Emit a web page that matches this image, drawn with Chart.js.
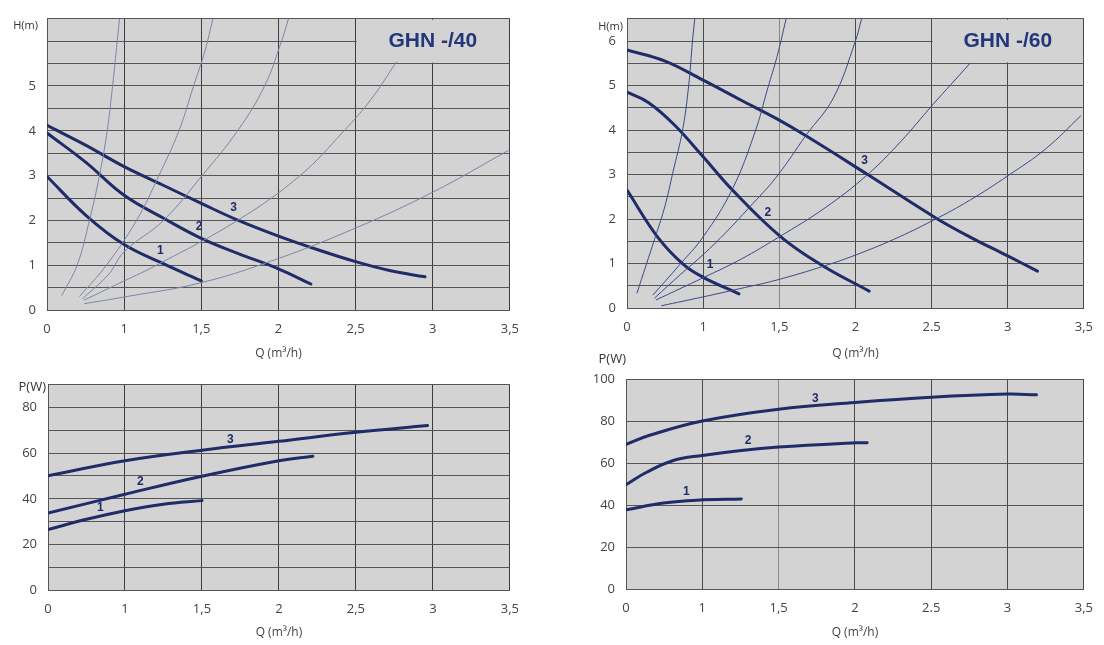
<!DOCTYPE html>
<html>
<head>
<meta charset="utf-8">
<script src="https://cdn.jsdelivr.net/npm/chart.js@4.4.1/dist/chart.umd.min.js"></script>
<style>
body { margin: 0; background: #fff; width: 1104px; height: 645px; overflow: hidden; position: relative; }
.panel { position: absolute; }
</style>
</head>
<body>
<div class="panel" style="left:0;top:0;width:530px;height:366px"><canvas id="h40"></canvas></div>
<div class="panel" style="left:560px;top:0;width:544px;height:366px"><canvas id="h60"></canvas></div>
<div class="panel" style="left:0;top:366px;width:530px;height:279px"><canvas id="p40"></canvas></div>
<div class="panel" style="left:560px;top:340px;width:544px;height:305px"><canvas id="p60"></canvas></div>
<script>
// x axis is not linear: 0, 1, 1,5, 2 ... are equally spaced
const qTicksLeft = ['0', '1', '1,5', '2', '2,5', '3', '3,5'];
const qTicksRight = ['0', '1', '1,5', '2', '2.5', '3', '3,5'];

// GHN -/40  H(Q)
const h40Q1 = [0, 0.5, 1, 1.25, 1.5];
const h40H1 = [2.98, 2.12, 1.46, 1.04, 0.65];
const h40Q2 = [0, 0.5, 1, 1.25, 1.5, 1.74, 2, 2.21];
const h40H2 = [3.95, 3.3, 2.56, 2.06, 1.6, 1.26, 0.92, 0.58];
const h40Q3 = [0, 0.5, 1, 1.25, 1.5, 1.74, 2, 2.26, 2.5, 2.72, 2.95];
const h40H3 = [4.12, 3.68, 3.2, 2.79, 2.38, 2.0, 1.65, 1.34, 1.08, 0.88, 0.74];
// system curves GHN -/40
const s40Q = [
  [0.19, 0.39, 0.55, 0.68, 0.78, 0.85, 0.91, 0.94],
  [0.42, 0.77, 1.08, 1.225, 1.355, 1.45, 1.525, 1.575],
  [0.46, 0.8, 1.0, 1.255, 1.505, 1.735, 1.91, 2.02, 2.065],
  [0.48, 1.0, 1.21, 1.735, 2.14, 2.425, 2.6, 2.765],
  [0.48, 1, 1.5, 2, 2.5, 3, 3.49]
];
const s40H = [
  [0.32, 1, 2, 3, 4, 5, 6, 6.5],
  [0.3, 1, 2, 3, 4, 5, 5.8, 6.5],
  [0.25, 0.8, 1.3, 2, 3, 4, 5, 6, 6.5],
  [0.22, 0.65, 1, 2, 3, 4, 4.7, 5.54],
  [0.14, 0.29, 0.61, 1.15, 1.83, 2.63, 3.56]
];
const h40Labels = [[1.235, 1.33], [1.485, 1.85], [1.71, 2.28]];

// GHN -/60  H(Q)
const h60Q1 = [0, 0.4, 0.74, 1.0, 1.235];
const h60H1 = [2.65, 1.6, 0.98, 0.69, 0.32];
const h60Q2 = [0, 0.28, 0.62, 1.0, 1.19, 1.51, 1.785, 2.09];
const h60H2 = [4.85, 4.62, 4.12, 3.4, 2.66, 1.6, 0.95, 0.38];
const h60Q3 = [0, 0.5, 1.0, 1.25, 1.485, 1.675, 2.08, 2.525, 2.75, 3.0, 3.195];
const h60H3 = [5.8, 5.55, 5.12, 4.67, 4.25, 3.87, 3.0, 2.03, 1.6, 1.17, 0.83];
// system curves GHN -/60
const s60Q = [
  [0.13, 0.25, 0.38, 0.5, 0.6, 0.73, 0.81, 0.86, 0.89],
  [0.34, 0.68, 1.0, 1.19, 1.34, 1.425, 1.485, 1.545],
  [0.36, 0.7, 1.0, 1.15, 1.3, 1.48, 1.675, 1.855, 2.0, 2.04],
  [0.38, 1.0, 1.25, 1.5, 1.8, 2.08, 2.3, 2.5, 2.75],
  [0.45, 1.0, 1.235, 1.485, 1.8, 2.0, 2.25, 2.51, 2.75, 3.0, 3.25, 3.48]
];
const s60H = [
  [0.33, 0.96, 1.64, 2.3, 3.03, 4.0, 5.0, 6.0, 6.5],
  [0.29, 0.95, 1.6, 2.66, 3.95, 4.95, 5.65, 6.5],
  [0.22, 0.75, 1.2, 1.7, 2.25, 2.94, 3.88, 4.72, 6.0, 6.5],
  [0.18, 0.68, 1.1, 1.6, 2.25, 3.0, 3.75, 4.54, 5.49],
  [0.05, 0.25, 0.43, 0.63, 0.95, 1.19, 1.54, 1.97, 2.42, 2.97, 3.58, 4.32]
];
const h60Labels = [[1.045, 0.97], [1.425, 2.15], [2.06, 3.3]];

// GHN -/40  P(Q)
const p40Q1 = [0, 0.5, 1, 1.25, 1.5];
const p40P1 = [26.5, 31, 34.8, 37.6, 39.2];
const p40Q2 = [0, 1, 1.5, 2, 2.22];
const p40P2 = [33.7, 42, 49.9, 56.7, 58.7];
const p40Q3 = [0, 1, 1.5, 2, 2.5, 2.965];
const p40P3 = [50.1, 56.7, 61.3, 65.2, 69.2, 72.1];
const p40Labels = [[0.68, 36], [1.1, 47.3], [1.685, 65.9]];

// GHN -/60  P(Q)
const p60Q1 = [0, 0.49, 0.93, 1.255];
const p60P1 = [37.7, 40.9, 42.3, 42.9];
const p60Q2 = [0, 0.27, 0.62, 1.0, 1.255, 1.5, 2.0, 2.08];
const p60P2 = [49.7, 55.6, 61.2, 63.6, 66, 67.6, 69.6, 69.7];
const p60Q3 = [0, 0.31, 1, 1.5, 2, 2.5, 3, 3.19];
const p60P3 = [68.9, 73.2, 80, 85.6, 88.8, 91.3, 92.8, 92.5];
const p60Labels = [[0.79, 46.5], [1.3, 70.8], [1.74, 90.4]];

const NAVY = '#1f2c68';
const PAPER = '#d3d3d3';

function qToPos(q) {
  return q <= 1 ? q : 1 + (q - 1) * 2;
}
function pts(qs, vs) {
  return qs.map((q, i) => ({ x: qToPos(q), y: vs[i] }));
}
function pumpLine(qs, vs) {
  return { data: pts(qs, vs), borderColor: NAVY, borderWidth: 3, pointRadius: 0, tension: 0.4, borderCapStyle: 'round' };
}
function sysLine(qs, vs, color) {
  return { data: pts(qs, vs), borderColor: color, borderWidth: 1, pointRadius: 0, tension: 0.4 };
}

const paper = {
  id: 'paper',
  beforeDraw(chart) {
    const a = chart.chartArea, c = chart.ctx;
    c.save();
    c.fillStyle = PAPER;
    c.fillRect(a.left, a.top, a.right - a.left, a.bottom - a.top);
    c.restore();
  },
  beforeDatasetsDraw(chart, args, opts) {
    if (!opts.title) return;
    const xs = chart.scales.x, ys = chart.scales.y, c = chart.ctx, a = chart.chartArea;
    const l = xs.getPixelForValue(4), b = ys.getPixelForValue(5.5);
    c.save();
    c.fillStyle = PAPER;
    c.fillRect(l + 1, a.top + 1, a.right - l - 2, b - a.top - 2);
    c.font = 'bold 21px "Liberation Sans", Arial, sans-serif';
    c.fillStyle = '#22367a';
    c.textAlign = 'center';
    c.textBaseline = 'middle';
    c.fillText(opts.title, xs.getPixelForValue(5), ys.getPixelForValue(6));
    c.restore();
  },
  afterDatasetsDraw(chart, args, opts) {
    const xs = chart.scales.x, ys = chart.scales.y, c = chart.ctx, a = chart.chartArea;
    c.save();
    c.font = 'bold 12px "Liberation Sans", Arial, sans-serif';
    c.fillStyle = NAVY;
    c.textAlign = 'center';
    c.textBaseline = 'middle';
    (opts.labels || []).forEach((p, i) => {
      c.fillText(String(i + 1), xs.getPixelForValue(qToPos(p[0])), ys.getPixelForValue(p[1]));
    });
    if (opts.unit) {
      c.font = opts.unit.size + 'px "Open Sans", sans-serif';
      c.fillStyle = '#333';
      c.textAlign = 'right';
      c.fillText(opts.unit.text, a.left + opts.unit.dx, a.top + opts.unit.dy);
    }
    c.restore();
  }
};

function makeChart(id, cfg) {
  const tickFont = { family: '"Open Sans", sans-serif', size: 13 };
  new Chart(document.getElementById(id), {
    type: 'line',
    data: { datasets: cfg.datasets },
    plugins: [paper],
    options: {
      responsive: true,
      maintainAspectRatio: false,
      animation: false,
      events: [],
      layout: { padding: { top: cfg.padTop, right: cfg.padRight, left: 0, bottom: 0 } },
      plugins: {
        legend: { display: false },
        tooltip: { enabled: false },
        paper: { title: cfg.title, labels: cfg.labels, unit: cfg.unit }
      },
      scales: {
        x: {
          type: 'linear', min: 0, max: 6,
          afterFit: s => { s.height = cfg.xHeight; },
          border: { display: true, color: '#555', width: 1 },
          grid: { drawTicks: false, lineWidth: 1, color: cfg.xGrid },
          ticks: {
            stepSize: 1, autoSkip: false, maxRotation: 0, padding: 11,
            color: '#444', font: tickFont,
            callback: v => cfg.xLabels[v]
          },
          title: {
            display: true, text: 'Q (m³/h)', color: '#444',
            font: { family: '"Open Sans", sans-serif', size: 12 },
            padding: { top: 0, bottom: 5 }
          }
        },
        y: {
          type: 'linear', min: 0, max: cfg.yMax,
          afterFit: s => { s.width = cfg.yWidth; },
          border: { display: true, color: '#555', width: 1 },
          grid: { drawTicks: false, lineWidth: 1, color: '#555' },
          ticks: {
            stepSize: cfg.yStep, autoSkip: false, padding: 11,
            color: '#444', font: tickFont,
            callback: cfg.yLabel
          }
        }
      }
    }
  });
}

const leftGrid = '#3c3c3c';
const rightGrid = ctx => ctx.tick && ctx.tick.value === 2 ? '#8a8a8a' : '#4a4a4a';

makeChart('h40', {
  padTop: 8, padRight: 9, xHeight: 56, yWidth: 47, yMax: 6.5, yStep: 0.5,
  xLabels: qTicksLeft, xGrid: leftGrid,
  yLabel: v => (Number.isInteger(v) && v <= 5 ? String(v) : ''),
  title: 'GHN -/40', labels: h40Labels,
  unit: { text: 'H(m)', dx: -9, dy: 7, size: 11 },
  datasets: s40Q.map((q, i) => sysLine(q, s40H[i], '#7c86a6')).concat([
    pumpLine(h40Q1, h40H1), pumpLine(h40Q2, h40H2), pumpLine(h40Q3, h40H3)
  ])
});

makeChart('h60', {
  padTop: 9, padRight: 8, xHeight: 58, yWidth: 67, yMax: 6.5, yStep: 0.5,
  xLabels: qTicksRight, xGrid: rightGrid,
  yLabel: v => (Number.isInteger(v) ? String(v) : ''),
  title: 'GHN -/60', labels: h60Labels,
  unit: { text: 'H(m)', dx: -4, dy: 8, size: 11 },
  datasets: s60Q.map((q, i) => sysLine(q, s60H[i], '#3a4a88')).concat([
    pumpLine(h60Q1, h60H1), pumpLine(h60Q2, h60H2), pumpLine(h60Q3, h60H3)
  ])
});

makeChart('p40', {
  padTop: 17, padRight: 9, xHeight: 55, yWidth: 48, yMax: 90, yStep: 10,
  xLabels: qTicksLeft, xGrid: leftGrid,
  yLabel: v => (v % 20 === 0 ? String(v) : ''),
  labels: p40Labels,
  unit: { text: 'P(W)', dx: -2, dy: 2, size: 13 },
  datasets: [pumpLine(p40Q1, p40P1), pumpLine(p40Q2, p40P2), pumpLine(p40Q3, p40P3)]
});

makeChart('p60', {
  padTop: 39, padRight: 8, xHeight: 56, yWidth: 66, yMax: 100, yStep: 20,
  xLabels: qTicksRight, xGrid: rightGrid,
  yLabel: v => String(v),
  labels: p60Labels,
  unit: { text: 'P(W)', dx: 0, dy: -20, size: 13 },
  datasets: [pumpLine(p60Q1, p60P1), pumpLine(p60Q2, p60P2), pumpLine(p60Q3, p60P3)]
});
</script>
</body>
</html>
